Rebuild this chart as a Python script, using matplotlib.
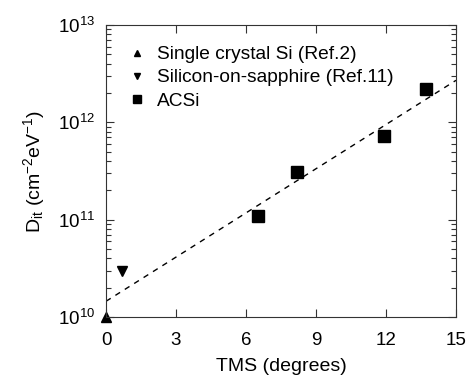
import matplotlib
matplotlib.use("Agg")
import matplotlib.pyplot as plt
import numpy as np
from matplotlib.ticker import LogLocator, NullFormatter

plt.rcParams["font.family"] = ["Liberation Sans", "DejaVu Sans"]
plt.rcParams["mathtext.fontset"] = "custom"
plt.rcParams["mathtext.rm"] = "Liberation Sans"
plt.rcParams["mathtext.it"] = "Liberation Sans:italic"

# data
single_x = [0.0]
single_y = [1.0e10]
sos_x = [0.7]
sos_y = [3.0e10]
acsi_x = [6.5, 8.2, 11.9, 13.7]
acsi_y = [1.1e11, 3.1e11, 7.2e11, 2.2e12]
fit_x = [0.0, 15.0]
fit_y = [1.45e10, 2.7e12]

fig = plt.figure(figsize=(4.68, 3.83), dpi=100)
ax = fig.add_axes([106 / 468, 1 - 317 / 383, 350 / 468, 292 / 383])

ax.plot(fit_x, fit_y, "k--", lw=1.0, dashes=(4, 4))
ax.plot(single_x, single_y, "k^", ms=7, clip_on=False, label="Single crystal Si (Ref.2)")
ax.plot(sos_x, sos_y, "kv", ms=7, label="Silicon-on-sapphire (Ref.11)")
ax.plot(acsi_x, acsi_y, "ks", ms=8.5, label="ACSi")

ax.set_yscale("log")
ax.set_xlim(0, 15)
ax.set_ylim(1e10, 1e13)
ax.set_xticks([0, 3, 6, 9, 12, 15])
ax.yaxis.set_major_locator(LogLocator(base=10, numticks=10))
ax.yaxis.set_minor_locator(LogLocator(base=10, subs=np.arange(2, 10), numticks=10))
ax.yaxis.set_minor_formatter(NullFormatter())

ax.tick_params(which="both", direction="in", top=True, right=True, labelsize=13.5,
               width=0.8, color="#333333")
ax.tick_params(which="major", length=6)
ax.tick_params(which="minor", length=3.5)
ax.tick_params(axis="x", pad=11)
ax.tick_params(axis="y", pad=8)
for s in ax.spines.values():
    s.set_linewidth(0.8)
    s.set_color("#333333")

ax.set_xlabel("TMS (degrees)", fontsize=14, labelpad=6)
ax.set_ylabel(r"D$_{\mathrm{it}}$ (cm$^{\mathrm{-2}}$eV$^{\mathrm{-1}}$)", fontsize=14, labelpad=8)

leg = ax.legend(loc="upper left", bbox_to_anchor=(0.035, 0.955), frameon=False,
                fontsize=13.8, handletextpad=0.4, borderaxespad=0.0,
                labelspacing=0.3, handlelength=1.2, markerscale=0.65)

fig.savefig("out.png", dpi=100, facecolor="white")
